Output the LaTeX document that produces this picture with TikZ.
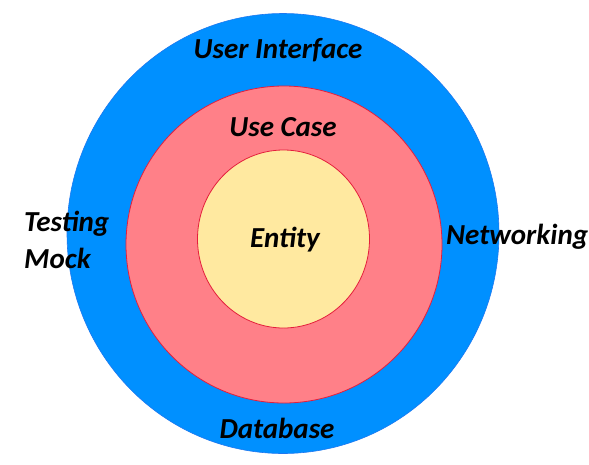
\documentclass[tikz, border = 0pt]{standalone}
\usepackage{fontspec}
\setmainfont{Carlito}

\definecolor{layerblue}{RGB}{0, 144, 255}
\definecolor{layerblueline}{RGB}{30, 120, 240}
\definecolor{layerpink}{RGB}{255, 128, 136}
\definecolor{layeryellow}{RGB}{255, 233, 160}
\definecolor{layerline}{RGB}{228, 30, 60}

\tikzset{
	layer label/.style = {font = \fontsize{29}{33}\selectfont\bfseries\itshape, inner sep = 0pt},
	side label/.style = {layer label, anchor = west, align = left}
}

\begin{document}
\begin{tikzpicture}[x = 1pt, y = -1pt]

	% Frame

	\useasboundingbox (0, 0) rectangle (589, 464);

	% Rings

	\draw [fill = layerblue, draw = layerblueline, line width = 0.6pt] (283, 233.5) ellipse [x radius = 216pt, y radius = 220pt];
	\draw [fill = layerpink, draw = layerline, line width = 0.8pt] (284, 244.5) ellipse [x radius = 158pt, y radius = 158.5pt];
	\draw [fill = layeryellow, draw = layerline, line width = 0.8pt] (283.5, 239) ellipse [x radius = 86pt, y radius = 89pt];

	% Labels

	\node [layer label] (ui) at (278, 50) {User Interface};
	\node [layer label] (usecase) at (283, 127) {Use Case};
	\node [layer label] (entity) at (285, 240) {Entity};
	\node [layer label] (database) at (277, 428) {Database};
	\node [side label] (testing) at (24, 224) {Testing};
	\node [side label] (mock) at (24, 258) {Mock};
	\node [side label] (networking) at (446, 237) {Networking};

\end{tikzpicture}
\end{document}
